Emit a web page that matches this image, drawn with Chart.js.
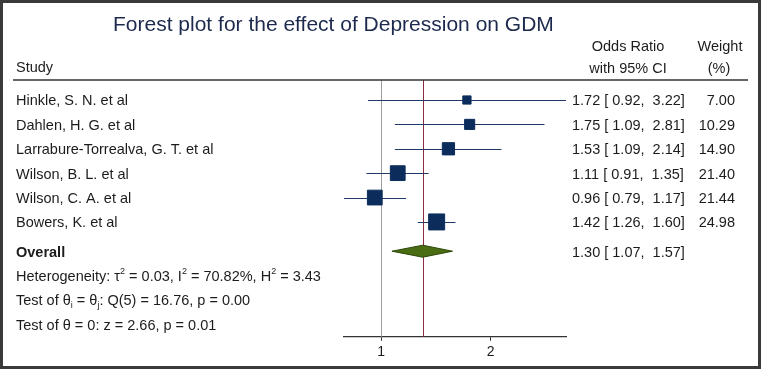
<!DOCTYPE html>
<html>
<head>
<meta charset="utf-8">
<script src="https://cdn.jsdelivr.net/npm/chart.js@4"></script>
<style>
  html, body { margin: 0; padding: 0; background: #fff; }
</style>
</head>
<body>
<canvas id="forestChart" width="762" height="369"></canvas>
<script>
// values
const studies = [
  "Hinkle, S. N. et al",
  "Dahlen, H. G. et al",
  "Larrabure-Torrealva, G. T. et al",
  "Wilson, B. L. et al",
  "Wilson, C. A. et al",
  "Bowers, K. et al"
];
const oddsRatio = [1.72, 1.75, 1.53, 1.11, 0.96, 1.42];
const ciLower = [0.92, 1.09, 1.09, 0.91, 0.79, 1.26];
const ciUpper = [3.22, 2.81, 2.14, 1.35, 1.17, 1.60];
const weights = [7.00, 10.29, 14.90, 21.40, 21.44, 24.98];
const overallOR = 1.30;
const overallLower = 1.07;
const overallUpper = 1.57;
const xTicks = [1, 2];
const statLines = [
  ["Heterogeneity: \u03c4", { sup: "2" }, " = 0.03, I", { sup: "2" }, " = 70.82%, H", { sup: "2" }, " = 3.43"],
  ["Test of \u03b8", { sub: "i" }, " = \u03b8", { sub: "j" }, ": Q(5) = 16.76, p = 0.00"],
  ["Test of \u03b8 = 0: z = 2.66, p = 0.01"]
];

const FONT = "'Liberation Sans', Arial, Helvetica, sans-serif";
const TEXT = "#1c1c1c";
const BODY = 14.5;
const OVERALL_ROW = 6.2;
const TEXT_DY = 1.5;

function fmtCI(or, lo, hi) {
  return or.toFixed(2) + " [ " + lo.toFixed(2) + ",  " + hi.toFixed(2) + "]";
}

function richText(ctx, x, y, parts, size) {
  let cx = x;
  parts.forEach(p => {
    const small = typeof p !== "string";
    const txt = small ? (p.sup || p.sub) : p;
    ctx.font = (small ? Math.round(size * 0.6) : size) + "px " + FONT;
    let dy = 0;
    if (small) dy = p.sup ? -size * 0.38 : size * 0.28;
    ctx.fillText(txt, cx, y + dy);
    cx += ctx.measureText(txt).width;
  });
}

const forestPlugin = {
  id: "forest",
  beforeDatasetsDraw(chart) {
    const ctx = chart.ctx;
    const xs = chart.scales.x, ys = chart.scales.y;
    const area = chart.chartArea;
    ctx.save();
    // line of no effect
    ctx.strokeStyle = "#9c9c9c";
    ctx.lineWidth = 1;
    ctx.beginPath();
    const x1 = Math.round(xs.getPixelForValue(1)) + 0.5;
    ctx.moveTo(x1, area.top);
    ctx.lineTo(x1, area.bottom);
    ctx.stroke();
    // overall effect line
    ctx.strokeStyle = "#8e2a44";
    ctx.beginPath();
    const xo = Math.round(xs.getPixelForValue(overallOR)) + 0.5;
    ctx.moveTo(xo, area.top);
    ctx.lineTo(xo, area.bottom);
    ctx.stroke();
    // confidence intervals
    ctx.strokeStyle = "#1f3a66";
    studies.forEach((s, i) => {
      const y = Math.round(ys.getPixelForValue(i)) + 0.5;
      ctx.beginPath();
      ctx.moveTo(xs.getPixelForValue(ciLower[i]), y);
      ctx.lineTo(xs.getPixelForValue(ciUpper[i]), y);
      ctx.stroke();
    });
    ctx.restore();
  },
  afterDraw(chart) {
    const ctx = chart.ctx;
    const xs = chart.scales.x, ys = chart.scales.y;
    ctx.save();

    // frame
    ctx.strokeStyle = "#3a3a3a";
    ctx.lineWidth = 3;
    ctx.strokeRect(1.5, 1.5, 758, 366);

    // title
    ctx.fillStyle = "#1d2a4d";
    ctx.textBaseline = "middle";
    ctx.textAlign = "left";
    ctx.font = "21px " + FONT;
    ctx.fillText("Forest plot for the effect of Depression on GDM", 113, 25);

    // column headers
    ctx.fillStyle = TEXT;
    ctx.font = BODY + "px " + FONT;
    ctx.fillText("Study", 16, 68);
    ctx.textAlign = "center";
    ctx.fillText("Odds Ratio", 628, 47);
    ctx.fillText("with 95% CI", 628, 69);
    ctx.fillText("Weight", 720, 47);
    ctx.fillText("(%)", 719, 69);

    // header rule
    ctx.strokeStyle = "#333";
    ctx.lineWidth = 1.5;
    ctx.beginPath();
    ctx.moveTo(13, 80);
    ctx.lineTo(748, 80);
    ctx.stroke();

    // study rows
    studies.forEach((s, i) => {
      const y = ys.getPixelForValue(i) + TEXT_DY;
      ctx.textAlign = "left";
      ctx.fillText(s, 16, y);
      ctx.fillText(fmtCI(oddsRatio[i], ciLower[i], ciUpper[i]), 572, y);
      ctx.textAlign = "right";
      ctx.fillText(weights[i].toFixed(2), 735, y);
    });

    // overall
    const yo = ys.getPixelForValue(OVERALL_ROW);
    ctx.textAlign = "left";
    ctx.font = "bold " + BODY + "px " + FONT;
    ctx.fillText("Overall", 16, yo + TEXT_DY);
    ctx.font = BODY + "px " + FONT;
    ctx.fillText(fmtCI(overallOR, overallLower, overallUpper), 572, yo + TEXT_DY);

    // diamond
    ctx.fillStyle = "#4a6c12";
    ctx.strokeStyle = "#2c4708";
    ctx.lineWidth = 1;
    ctx.beginPath();
    ctx.moveTo(xs.getPixelForValue(overallLower), yo);
    ctx.lineTo(xs.getPixelForValue(overallOR), yo - 6);
    ctx.lineTo(xs.getPixelForValue(overallUpper), yo);
    ctx.lineTo(xs.getPixelForValue(overallOR), yo + 6);
    ctx.closePath();
    ctx.fill();
    ctx.stroke();

    // heterogeneity and tests
    ctx.fillStyle = TEXT;
    statLines.forEach((parts, k) => {
      richText(ctx, 16, ys.getPixelForValue(OVERALL_ROW + 1 + k) + TEXT_DY, parts, BODY);
    });

    ctx.restore();
  }
};

new Chart(document.getElementById("forestChart"), {
  type: "scatter",
  data: {
    datasets: [{
      data: studies.map((s, i) => ({ x: oddsRatio[i], y: i })),
      pointStyle: "rect",
      pointRadius: ctx => (3.3 * Math.sqrt(weights[ctx.dataIndex]) - 0.5) / 1.414,
      backgroundColor: "#0c2d5c",
      borderColor: "#0c2d5c",
      borderWidth: 1
    }]
  },
  options: {
    responsive: false,
    animation: false,
    events: [],
    layout: { padding: { left: 344, right: 196, top: 80, bottom: 5.4 } },
    plugins: { legend: { display: false }, tooltip: { enabled: false } },
    scales: {
      x: {
        type: "logarithmic",
        min: 0.79,
        max: 3.22,
        bounds: "data",
        afterBuildTicks: axis => { axis.ticks = xTicks.map(v => ({ value: v })); },
        ticks: {
          callback: v => String(v),
          color: TEXT,
          font: { family: FONT, size: 14 },
          padding: 3,
          maxRotation: 0
        },
        grid: { drawOnChartArea: false, tickLength: 4, color: "#333" },
        border: { color: "#333", width: 1.2 }
      },
      y: {
        type: "linear",
        min: -0.82,
        max: 9.71,
        reverse: true,
        display: false
      }
    }
  },
  plugins: [forestPlugin]
});
</script>
</body>
</html>
